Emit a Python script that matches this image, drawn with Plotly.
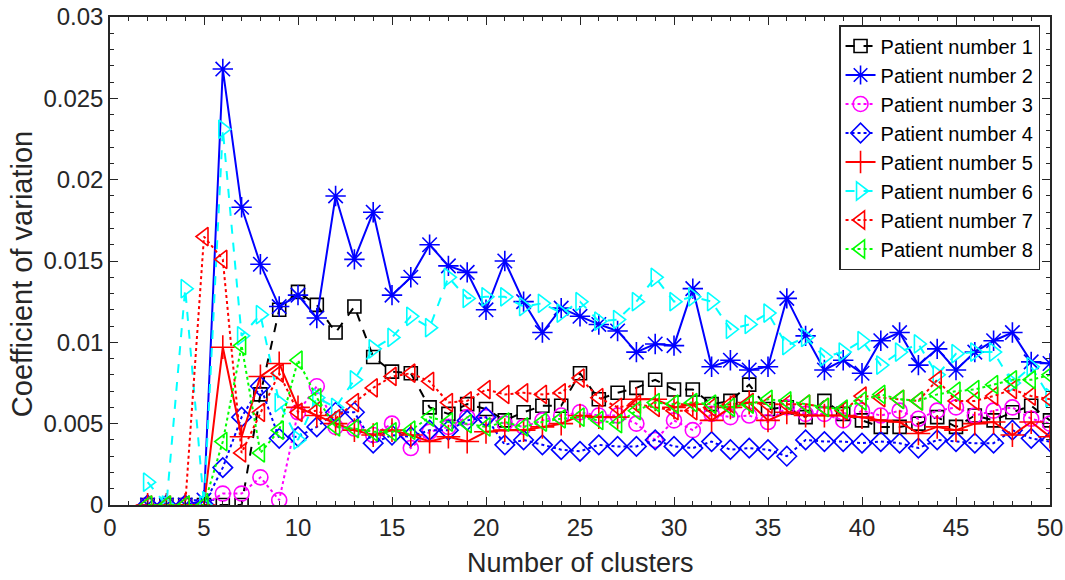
import plotly.graph_objects as go

clusters = list(range(2, 51))

p1 = [0, 0, 0, 0, 0, 0, 0.0068, 0.0120, 0.0131, 0.0123, 0.0106, 0.0122, 0.0091, 0.0082, 0.0081,
      0.0060, 0.0056, 0.0062, 0.0059, 0.0052, 0.0057, 0.0061, 0.0061, 0.0081, 0.0065, 0.0069,
      0.0072, 0.0077, 0.0071, 0.0071, 0.0062, 0.0064, 0.0074, 0.0059, 0.0060, 0.0054, 0.0064,
      0.0056, 0.0052, 0.0048, 0.0048, 0.0050, 0.0054, 0.0048, 0.0055, 0.0052, 0.0057, 0.0061, 0.0052]
p2 = [0, 0, 0, 0.0003, 0.0268, 0.0183, 0.0148, 0.0122, 0.0129, 0.0115, 0.0190, 0.0151, 0.0180,
      0.0129, 0.0140, 0.0160, 0.0147, 0.0143, 0.0120, 0.0150, 0.0125, 0.0106, 0.0121, 0.0116,
      0.0111, 0.0107, 0.0094, 0.0099, 0.0098, 0.0133, 0.0085, 0.0089, 0.0083, 0.0085, 0.0127,
      0.0104, 0.0083, 0.0089, 0.0081, 0.0101, 0.0106, 0.0086, 0.0096, 0.0083, 0.0094, 0.0101,
      0.0106, 0.0088, 0.0087]
p3 = [0, 0, 0, 0, 0.0007, 0.0007, 0.0017, 0.0003, 0.0057, 0.0073, 0.0048, 0.0047, 0.0043, 0.0050,
      0.0035, 0.0045, 0.0048, 0.0054, 0.0054, 0.0050, 0.0048, 0.0052, 0.0055, 0.0057, 0.0055,
      0.0055, 0.0050, 0.0040, 0.0052, 0.0046, 0.0056, 0.0054, 0.0055, 0.0051, 0.0060, 0.0056,
      0.0056, 0.0052, 0.0058, 0.0055, 0.0058, 0.0053, 0.0058, 0.0060, 0.0055, 0.0058, 0.0060,
      0.0053, 0.0050]
p4 = [0, 0, 0, 0, 0.0023, 0.0054, 0.0073, 0.0041, 0.0042, 0.0048, 0.0057, 0.0057, 0.0038, 0.0043,
      0.0042, 0.0046, 0.0046, 0.0052, 0.0054, 0.0037, 0.0040, 0.0037, 0.0034, 0.0033, 0.0037,
      0.0036, 0.0036, 0.0040, 0.0036, 0.0035, 0.0039, 0.0034, 0.0035, 0.0034, 0.0030, 0.0040,
      0.0039, 0.0039, 0.0038, 0.0039, 0.0038, 0.0035, 0.0040, 0.0039, 0.0038, 0.0038, 0.0046,
      0.0041, 0.0039]
p5 = [0, 0, 0, 0, 0.0097, 0.0042, 0.0079, 0.0087, 0.0060, 0.0055, 0.0050, 0.0046, 0.0043, 0.0046,
      0.0043, 0.0039, 0.0042, 0.0039, 0.0045, 0.0046, 0.0046, 0.0048, 0.0050, 0.0055, 0.0054,
      0.0054, 0.0065, 0.0065, 0.0060, 0.0062, 0.0052, 0.0060, 0.0063, 0.0052, 0.0057, 0.0055,
      0.0055, 0.0055, 0.0054, 0.0052, 0.0051, 0.0044, 0.0048, 0.0046, 0.0050, 0.0051, 0.0043,
      0.0051, 0.0042]
p6 = [0.0014, 0, 0.0133, 0, 0.0231, 0.0104, 0.0117, 0.0063, 0.0040, 0.0066, 0.0060, 0.0077, 0.0096,
      0.0103, 0.0116, 0.0109, 0.0140, 0.0127, 0.0128, 0.0128, 0.0122, 0.0124, 0.0118, 0.0125,
      0.0113, 0.0114, 0.0125, 0.0140, 0.0125, 0.0128, 0.0125, 0.0108, 0.0111, 0.0118, 0.0098,
      0.0103, 0.0091, 0.0094, 0.0101, 0.0086, 0.0094, 0.0099, 0.0080, 0.0093, 0.0094, 0.0094,
      0.0075, 0.0085, 0.0066]
p7 = [0, 0, 0, 0.0165, 0.0151, 0.0032, 0.0057, 0.0081, 0.0057, 0.0058, 0.0053, 0.0063, 0.0072,
      0.0079, 0.0081, 0.0076, 0.0063, 0.0064, 0.0071, 0.0068, 0.0069, 0.0068, 0.0069, 0.0078,
      0.0066, 0.0060, 0.0062, 0.0060, 0.0058, 0.0058, 0.0060, 0.0062, 0.0063, 0.0062, 0.0062,
      0.0062, 0.0060, 0.0058, 0.0067, 0.0066, 0.0065, 0.0064, 0.0077, 0.0064, 0.0064, 0.0067,
      0.0071, 0.0067, 0.0065]
p8 = [0, 0, 0, 0, 0.0039, 0.0098, 0.0032, 0.0046, 0.0089, 0.0066, 0.0048, 0.0047, 0.0045, 0.0045,
      0.0046, 0.0054, 0.0051, 0.0050, 0.0048, 0.0051, 0.0048, 0.0051, 0.0053, 0.0054, 0.0052,
      0.0050, 0.0058, 0.0063, 0.0062, 0.0063, 0.0062, 0.0060, 0.0062, 0.0065, 0.0064, 0.0062,
      0.0060, 0.0059, 0.0064, 0.0068, 0.0065, 0.0064, 0.0068, 0.0070, 0.0071, 0.0074, 0.0077,
      0.0077, 0.0080]

names = ["Patient number %d" % i for i in range(1, 9)]
series = [p1, p2, p3, p4, p5, p6, p7, p8]
colors = ["#000000", "#0000ff", "#ff00ff", "#0000ff", "#ff0000", "#00ffff", "#ff0000", "#00ff00"]
symbols = ["square-open", "asterisk-open", "circle-open", "diamond-open",
           "cross-thin-open", "triangle-right-open", "triangle-left-open", "triangle-left-open"]
dashes = ["dash", "solid", "dot", "dot", "solid", "dash", "dot", "dot"]
sizes = [13, 17, 15, 15, 17, 16, 16, 16]

y_ticks = [0, 0.005, 0.01, 0.015, 0.02, 0.025, 0.03]
y_labels = ["0", "0.005", "0.01", "0.015", "0.02", "0.025", "0.03"]
x_ticks = [0, 5, 10, 15, 20, 25, 30, 35, 40, 45, 50]
x_title = "Number of clusters"
y_title = "Coefficient of variation"

fig = go.Figure()
for n, s, c, sym, d, sz in zip(names, series, colors, symbols, dashes, sizes):
    fig.add_trace(go.Scatter(
        x=clusters, y=s, name=n, mode="lines+markers",
        line=dict(color=c, dash=d, width=2),
        marker=dict(symbol=sym, size=sz, color=c, line=dict(color=c, width=1.6)),
    ))

axcol = "#262626"
fig.update_layout(
    width=1065, height=580,
    margin=dict(l=110, r=15, t=17, b=75),
    paper_bgcolor="white", plot_bgcolor="white",
    font=dict(family="Liberation Sans, Arial, sans-serif", color=axcol, size=24),
    showlegend=True,
    legend=dict(
        x=0.9894, y=0.9836, xanchor="right", yanchor="top",
        bgcolor="white", bordercolor=axcol, borderwidth=1.5,
        font=dict(size=20, color="#000000"),
        itemwidth=30, tracegroupgap=0,
    ),
    xaxis=dict(
        range=[0, 50], tickvals=x_ticks, ticks="inside", ticklen=8, tickwidth=1.3,
        tickcolor=axcol, showline=True, linecolor=axcol, linewidth=1.5, mirror="ticks",
        showgrid=False, zeroline=False, tickfont=dict(size=24), automargin=False,
        minor=dict(dtick=1, ticks="inside", ticklen=4, tickcolor=axcol, showgrid=False),
    ),
    yaxis=dict(
        range=[0, 0.03], tickvals=y_ticks, ticktext=y_labels, ticks="inside", ticklen=8,
        tickwidth=1.3, tickcolor=axcol, showline=True, linecolor=axcol, linewidth=1.5,
        mirror="ticks", showgrid=False, zeroline=False, tickfont=dict(size=24),
        automargin=False,
        minor=dict(tickvals=[i * 0.001 for i in range(31)], ticks="inside", ticklen=4,
                   tickcolor=axcol, showgrid=False),
    ),
    annotations=[
        dict(text=x_title, xref="paper", yref="paper", x=0.5, y=-0.119,
             xanchor="center", yanchor="middle", showarrow=False,
             font=dict(size=27, color=axcol)),
        dict(text=y_title, xref="paper", yref="paper", x=-0.0936, y=0.473,
             xanchor="center", yanchor="middle", showarrow=False, textangle=-90,
             font=dict(size=29, color=axcol)),
    ],
)

fig.write_html("out.html")
